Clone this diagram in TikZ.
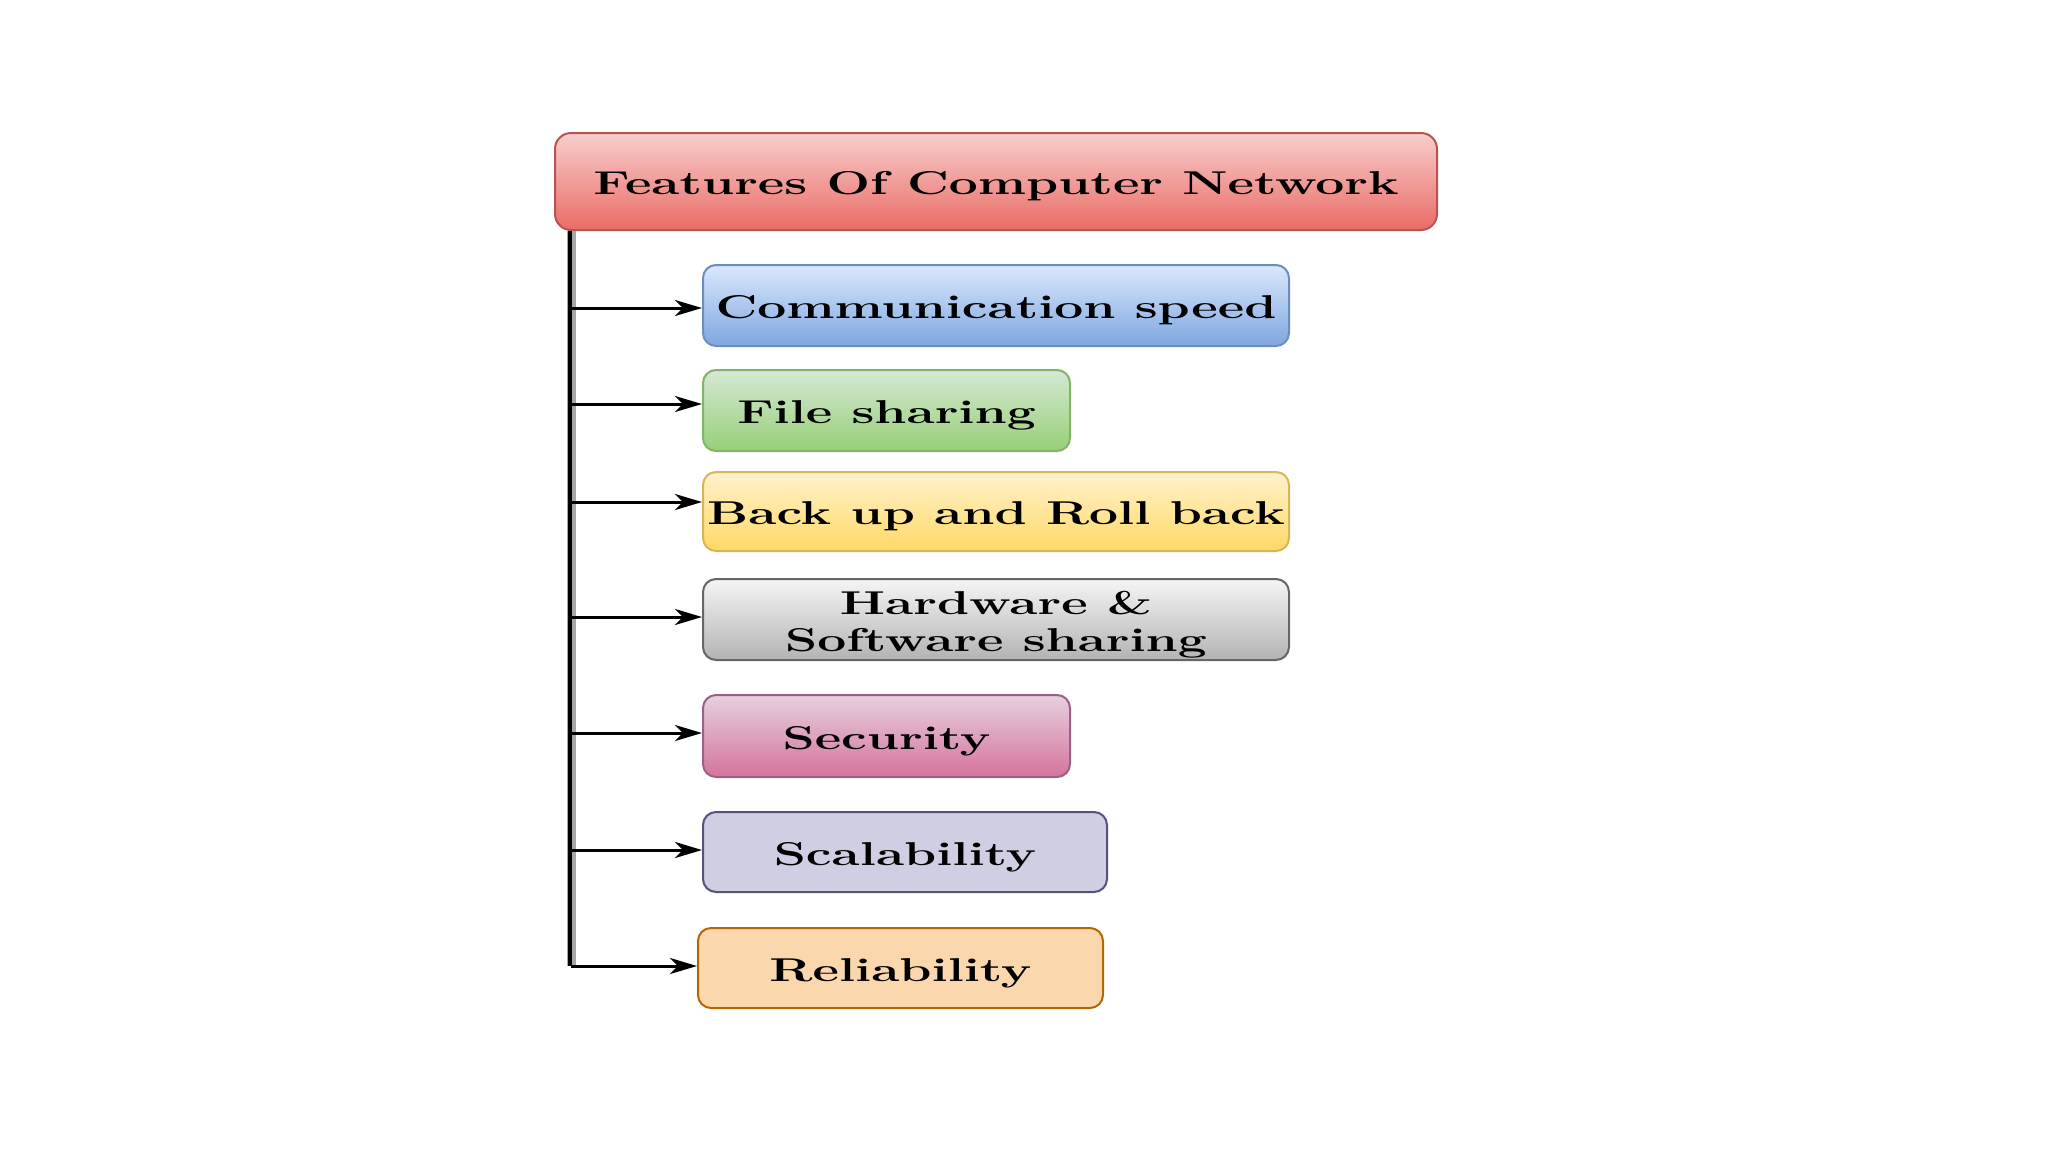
\documentclass[tikz,border=0pt]{standalone}
\usepackage{graphicx}
\usetikzlibrary{arrows.meta,calc}
\definecolor{tTop}{HTML}{F8CECC}\definecolor{tBot}{HTML}{EA6B66}\definecolor{tBrd}{HTML}{B85450}
\definecolor{bTop}{HTML}{DAE8FC}\definecolor{bBot}{HTML}{7EA6E0}\definecolor{bBrd}{HTML}{6C8EBF}
\definecolor{gTop}{HTML}{D5E8D4}\definecolor{gBot}{HTML}{97D077}\definecolor{gBrd}{HTML}{82B366}
\definecolor{yTop}{HTML}{FFF2CC}\definecolor{yBot}{HTML}{FFD966}\definecolor{yBrd}{HTML}{D6B656}
\definecolor{hTop}{HTML}{F5F5F5}\definecolor{hBot}{HTML}{B3B3B3}\definecolor{hBrd}{HTML}{666666}
\definecolor{sTop}{HTML}{E6D0DE}\definecolor{sBot}{HTML}{D5739D}\definecolor{sBrd}{HTML}{996185}
\definecolor{cFill}{HTML}{D0CEE2}\definecolor{cBrd}{HTML}{56517E}
\definecolor{rFill}{HTML}{FAD7AC}\definecolor{rBrd}{HTML}{B46504}
\newcommand\stretchtxt[1]{\raisebox{-5pt}[\height][\depth]{\scalebox{1.56}[1]{#1}}}
\tikzset{
  featbox/.style={draw, line width=2pt, rounded corners=13pt, inner sep=0pt,
    font=\fontsize{33}{37}\selectfont\bfseries, align=center, text=black},
  conn/.style={draw=black, line width=3pt, -{Stealth[length=27pt,width=16pt,inset=8pt]}},
}
\begin{document}
\begin{tikzpicture}[x=1pt,y=-1pt]
\useasboundingbox (0,0) rectangle (2048,1152);
\node[featbox, rounded corners=16pt, minimum width=882pt, minimum height=97pt,
  draw=tBrd, top color=tTop, bottom color=tBot] (title) at (996,181.5)
  {\stretchtxt{Features Of Computer Network}};
\node[featbox, minimum width=586pt, minimum height=81pt,
  draw=bBrd, top color=bTop, bottom color=bBot] (comm) at (996,305.5)
  {\stretchtxt{Communication speed}};
\node[featbox, minimum width=367pt, minimum height=81pt,
  draw=gBrd, top color=gTop, bottom color=gBot] (file) at (886.5,410.5)
  {\stretchtxt{File sharing}};
\node[featbox, minimum width=586pt, minimum height=79pt,
  draw=yBrd, top color=yTop, bottom color=yBot] (back) at (996,511.5)
  {\stretchtxt{Back up and Roll back}};
\node[featbox, minimum width=586pt, minimum height=81pt,
  draw=hBrd, top color=hTop, bottom color=hBot] (hard) at (996,619.5)
  {\stretchtxt{Hardware \&}\\\stretchtxt{Software sharing}};
\node[featbox, minimum width=367pt, minimum height=82pt,
  draw=sBrd, top color=sTop, bottom color=sBot] (secu) at (886.5,736)
  {\stretchtxt{Security}};
\node[featbox, minimum width=404pt, minimum height=80pt,
  draw=cBrd, fill=cFill] (scal) at (905,852)
  {\stretchtxt{Scalability}};
\node[featbox, minimum width=405pt, minimum height=80pt,
  draw=rBrd, fill=rFill] (reli) at (900.5,968)
  {\stretchtxt{Reliability}};
% spine
\coordinate (sptop) at ($(title.south west)+(17,0)$);
\coordinate (a1) at ([yshift=-2.5pt]comm.west);
\coordinate (a2) at ([yshift=6.5pt]file.west);
\coordinate (a3) at ([yshift=9.5pt]back.west);
\coordinate (a4) at ([yshift=2.5pt]hard.west);
\coordinate (a5) at ([yshift=3pt]secu.west);
\coordinate (a6) at ([yshift=2pt]scal.west);
\coordinate (a7) at ([yshift=2pt]reli.west);
\coordinate (spbot) at (sptop |- a7);
\draw[line width=9pt, gray!70] (sptop) -- (spbot);
\draw[line width=4pt, black] ([xshift=-1pt]sptop) -- ([xshift=-1pt]spbot);
\foreach \a in {a1,a2,a3,a4,a5,a6,a7}{
  \draw[conn] (sptop |- \a) -- (\a);
}
\end{tikzpicture}
\end{document}
